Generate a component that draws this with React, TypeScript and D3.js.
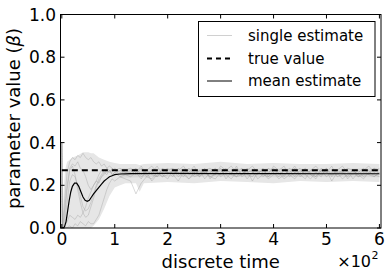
import * as d3 from "d3";

// single-estimate sample times (steps)
const SAMPLE_T = [
  0, 1, 5, 10, 15, 20, 25, 30, 35, 40, 45, 50, 55, 60, 65, 70, 75, 80, 85, 90, 95, 100, 110, 120,
  130, 140, 150, 160, 170, 180, 190, 200, 210, 220, 230, 240, 250, 260, 270, 280, 290, 300,
  310, 320, 330, 340, 350, 360, 370, 380, 390, 400, 410, 420, 430, 440, 450, 460, 470, 480,
  490, 500, 510, 520, 530, 540, 550, 560, 570, 580, 590, 600,
];

const SINGLE_A = [
  0.4, 0, 0.12, 0.26, 0.31, 0.33, 0.32, 0.34, 0.33, 0.35, 0.33, 0.32, 0.33, 0.31, 0.3, 0.31, 0.29, 0.3, 0.28, 0.29, 0.28, 0.27, 0.28, 0.26,
  0.27, 0.25, 0.28, 0.24, 0.26, 0.29, 0.25, 0.23, 0.27, 0.26, 0.24, 0.28, 0.25, 0.27, 0.23, 0.26,
  0.28, 0.24, 0.26, 0.25, 0.29, 0.24, 0.26, 0.27, 0.23, 0.25, 0.28, 0.26, 0.24, 0.27, 0.25, 0.23,
  0.26, 0.28, 0.25, 0.24, 0.27, 0.26, 0.29, 0.24, 0.25, 0.27, 0.23, 0.26, 0.28, 0.25, 0.24, 0.26,
];
const SINGLE_B = [
  0.4, 0, 0.02, 0.12, 0.22, 0.25, 0.24, 0.2, 0.15, 0.1, 0.08, 0.09, 0.12, 0.16, 0.2, 0.23, 0.25, 0.27, 0.26, 0.27, 0.25, 0.26, 0.24, 0.25,
  0.24, 0.26, 0.23, 0.27, 0.25, 0.24, 0.28, 0.26, 0.25, 0.22, 0.26, 0.27, 0.24, 0.25, 0.28, 0.23,
  0.26, 0.27, 0.25, 0.23, 0.26, 0.28, 0.25, 0.24, 0.27, 0.26, 0.23, 0.25, 0.27, 0.29, 0.24, 0.26,
  0.25, 0.23, 0.27, 0.26, 0.24, 0.28, 0.25, 0.26, 0.23, 0.25, 0.27, 0.24, 0.26, 0.25, 0.28, 0.25,
];
const SINGLE_C = [
  0.4, 0, 0, 0, 0.01, 0, 0.02, 0.01, 0.03, 0.02, 0.01, 0.03, 0.02, 0.02, 0.04, 0.06, 0.1, 0.14, 0.18, 0.21, 0.23, 0.22, 0.24, 0.23,
  0.22, 0.16, 0.21, 0.24, 0.23, 0.26, 0.24, 0.25, 0.27, 0.24, 0.26, 0.23, 0.25, 0.27, 0.26, 0.24,
  0.25, 0.28, 0.23, 0.26, 0.24, 0.25, 0.27, 0.22, 0.26, 0.25, 0.24, 0.27, 0.26, 0.23, 0.25, 0.28,
  0.24, 0.26, 0.25, 0.23, 0.27, 0.24, 0.26, 0.25, 0.27, 0.23, 0.26, 0.24, 0.25, 0.27, 0.24, 0.26,
];
const SINGLE_D = [
  0.4, 0, 0.05, 0.18, 0.27, 0.29, 0.25, 0.18, 0.12, 0.07, 0.05, 0.06, 0.1, 0.14, 0.19, 0.22, 0.24, 0.25, 0.27, 0.26, 0.28, 0.27, 0.25, 0.27,
  0.28, 0.26, 0.29, 0.25, 0.27, 0.24, 0.26, 0.28, 0.25, 0.27, 0.29, 0.25, 0.26, 0.24, 0.27, 0.28,
  0.26, 0.25, 0.27, 0.29, 0.26, 0.25, 0.28, 0.26, 0.27, 0.24, 0.26, 0.28, 0.25, 0.27, 0.26, 0.29,
  0.25, 0.27, 0.26, 0.24, 0.28, 0.26, 0.25, 0.27, 0.29, 0.26, 0.25, 0.27, 0.24, 0.26, 0.28, 0.27,
];
const SINGLE_E = [
  0.4, 0, 0.01, 0.03, 0.06, 0.05, 0.04, 0.06, 0.05, 0.07, 0.1, 0.14, 0.17, 0.2, 0.22, 0.21, 0.24, 0.26, 0.25, 0.27, 0.26, 0.28, 0.26, 0.25,
  0.25, 0.27, 0.24, 0.26, 0.22, 0.25, 0.27, 0.26, 0.24, 0.28, 0.25, 0.23, 0.26, 0.25, 0.27, 0.24,
  0.23, 0.26, 0.28, 0.25, 0.24, 0.27, 0.23, 0.26, 0.25, 0.28, 0.24, 0.26, 0.23, 0.25, 0.27, 0.24,
  0.27, 0.25, 0.23, 0.26, 0.25, 0.27, 0.22, 0.26, 0.26, 0.24, 0.27, 0.25, 0.23, 0.26, 0.25, 0.24,
];
const SINGLE_F = [
  0.4, 0, 0.08, 0.2, 0.28, 0.3, 0.29, 0.31, 0.28, 0.27, 0.24, 0.2, 0.18, 0.2, 0.22, 0.25, 0.27, 0.26, 0.28, 0.27, 0.25, 0.26, 0.27, 0.26,
  0.26, 0.28, 0.25, 0.27, 0.29, 0.26, 0.24, 0.27, 0.28, 0.25, 0.27, 0.26, 0.29, 0.24, 0.26, 0.27,
  0.25, 0.29, 0.27, 0.26, 0.28, 0.25, 0.27, 0.29, 0.26, 0.27, 0.25, 0.29, 0.27, 0.24, 0.28, 0.26,
  0.28, 0.25, 0.27, 0.29, 0.26, 0.28, 0.24, 0.27, 0.26, 0.28, 0.27, 0.25, 0.27, 0.29, 0.26, 0.28,
];
const SINGLES = [SINGLE_A, SINGLE_B, SINGLE_C, SINGLE_D, SINGLE_E, SINGLE_F];

// spread of all the single estimates
const BAND_T = [1, 3, 6, 10, 15, 20, 30, 40, 50, 55, 60, 70, 80, 90, 100, 110, 120, 140, 147, 155, 200, 250, 300, 350, 400, 450, 500, 550, 600];
const BAND_HIGH = [0.02, 0.15, 0.27, 0.31, 0.32, 0.33, 0.34, 0.355, 0.355, 0.35, 0.35, 0.33, 0.32, 0.31, 0.305, 0.3, 0.3, 0.3, 0.295, 0.3, 0.305, 0.3, 0.31, 0.3, 0.305, 0.3, 0.3, 0.305, 0.3];
const BAND_LOW = [0, 0, 0, 0, 0, 0, 0, 0, 0, 0, 0.01, 0.04, 0.09, 0.15, 0.19, 0.2, 0.21, 0.21, 0.17, 0.21, 0.215, 0.21, 0.22, 0.215, 0.21, 0.22, 0.215, 0.22, 0.215];
const CORE_T = [110, 150, 200, 300, 400, 500, 600];
const CORE_LOW = [0.235, 0.238, 0.24, 0.24, 0.238, 0.24, 0.238];
const CORE_HIGH = [0.28, 0.278, 0.28, 0.278, 0.28, 0.278, 0.28];

// mean estimate
const MEAN_T = [1, 5, 8, 11, 14, 17, 20, 24, 28, 32, 36, 40, 44, 48, 52, 56, 60, 65, 70, 75, 80, 85, 90, 95, 100, 110, 130, 200, 300, 400, 500, 600];
const MEAN_V = [0, 0.005, 0.03, 0.08, 0.13, 0.17, 0.195, 0.21, 0.21, 0.195, 0.17, 0.145, 0.13, 0.125, 0.13, 0.145, 0.16, 0.175, 0.19, 0.205, 0.22, 0.23, 0.24, 0.245, 0.25, 0.253, 0.255, 0.256, 0.255, 0.255, 0.254, 0.254];

const TRUE_VALUE = 0.27;
const TRUE_RANGE = [0, 600];

const X_TICKS = [0, 100, 200, 300, 400, 500, 600];
const X_TICK_LABELS = ["0", "1", "2", "3", "4", "5", "6"];
const Y_TICKS = [0, 0.2, 0.4, 0.6, 0.8, 1.0];
const Y_TICK_LABELS = ["0.0", "0.2", "0.4", "0.6", "0.8", "1.0"];

const W = 391;
const H = 277;
const L = 60.5;
const R = 381;
const T = 14.5;
const B = 228;
const FONT = "DejaVu Sans, sans-serif";

export default function App() {
  const x = d3.scaleLinear().domain([-2.5, 603]).range([L, R]);
  const y = d3.scaleLinear().domain([0, 1]).range([B, T]);

  const line = d3
    .line<[number, number]>()
    .x((d) => x(d[0]))
    .y((d) => y(d[1]));
  const area = d3
    .area<[number, number, number]>()
    .x((d) => x(d[0]))
    .y0((d) => y(d[1]))
    .y1((d) => y(d[2]));

  const band = BAND_T.map((t, i) => [t, BAND_LOW[i], BAND_HIGH[i]] as [number, number, number]);
  const core = CORE_T.map((t, i) => [t, CORE_LOW[i], CORE_HIGH[i]] as [number, number, number]);
  const mean = MEAN_T.map((t, i) => [t, MEAN_V[i]] as [number, number]);

  const tick = 4;
  const legendRows = [35.5, 58.5, 81];

  return (
    <svg width={W} height={H} style={{ position: "absolute", left: 0, top: 0, background: "#fff" }} fontFamily={FONT}>
      <defs>
        <clipPath id="plot">
          <rect x={L} y={T} width={R - L} height={B - T} />
        </clipPath>
      </defs>
      <g clipPath="url(#plot)">
        <path d={area(band) ?? ""} fill="#e6e6e6" />
        <path d={area(core) ?? ""} fill="#d8d8d8" />
        {SINGLES.map((vals, k) => (
          <path
            key={k}
            d={line(SAMPLE_T.map((t, i) => [t, vals[i]] as [number, number])) ?? ""}
            fill="none"
            stroke="#a0a0a0"
            strokeOpacity={0.5}
            strokeWidth={0.8}
          />
        ))}
        <line
          x1={x(TRUE_RANGE[0])}
          x2={x(TRUE_RANGE[1])}
          y1={y(TRUE_VALUE)}
          y2={y(TRUE_VALUE)}
          stroke="#000"
          strokeWidth={2}
          strokeDasharray="6,4"
        />
        <path d={line(mean) ?? ""} fill="none" stroke="#000" strokeWidth={1.2} />
      </g>

      {/* frame and inward ticks */}
      <rect x={L} y={T} width={R - L} height={B - T} fill="none" stroke="#000" strokeWidth={1} />
      {X_TICKS.map((t, i) => (
        <g key={"xt" + t}>
          <line x1={x(t)} x2={x(t)} y1={B} y2={B - tick} stroke="#000" />
          <line x1={x(t)} x2={x(t)} y1={T} y2={T + tick} stroke="#000" />
          <text x={x(t)} y={245} fontSize={17} textAnchor="middle">
            {X_TICK_LABELS[i]}
          </text>
        </g>
      ))}
      {Y_TICKS.map((v, i) => (
        <g key={"yt" + v}>
          <line x1={L} x2={L + tick} y1={y(v)} y2={y(v)} stroke="#000" />
          <line x1={R} x2={R - tick} y1={y(v)} y2={y(v)} stroke="#000" />
          <text x={56} y={y(v) + 6} fontSize={17} textAnchor="end">
            {Y_TICK_LABELS[i]}
          </text>
        </g>
      ))}

      <text x={(L + R) / 2} y={268} fontSize={18} textAnchor="middle">
        discrete time
      </text>
      <text x={371} y={267} fontSize={16} textAnchor="end">
        ×10
      </text>
      <text x={371.5} y={259} fontSize={11}>
        2
      </text>
      <text transform={`translate(20,${118.5}) rotate(-90)`} fontSize={18} textAnchor="middle">
        parameter value (<tspan fontStyle="italic">β</tspan>)
      </text>

      {/* legend */}
      <rect x={198.5} y={21.5} width={176.5} height={75} fill="#fff" stroke="#000" strokeWidth={1} />
      <line x1={207} x2={232} y1={legendRows[0]} y2={legendRows[0]} stroke="#d0d0d0" strokeWidth={1} />
      <line x1={207} x2={232} y1={legendRows[1]} y2={legendRows[1]} stroke="#000" strokeWidth={2} strokeDasharray="5,4" />
      <line x1={207} x2={232} y1={legendRows[2]} y2={legendRows[2]} stroke="#000" strokeWidth={1} />
      {["single estimate", "true value", "mean estimate"].map((s, i) => (
        <text key={s} x={248} y={legendRows[i] + 5} fontSize={15}>
          {s}
        </text>
      ))}
    </svg>
  );
}
